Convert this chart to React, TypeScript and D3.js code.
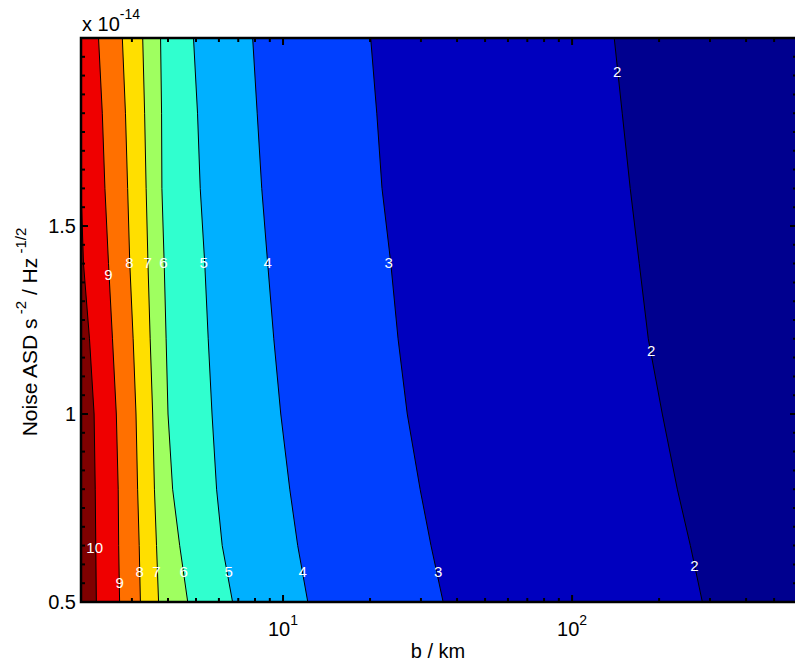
import React from "react";
import * as d3 from "d3";

// noise ASD rows (x 1e-14) at which contour boundaries were read
const noiseRows = [2.0, 1.8, 1.6, 1.4, 1.2, 1.0, 0.8, 0.65, 0.5];

// b (km) where each contour level crosses the rows above
const level2 = [139.9, 149.1, 158.9, 170.8, 183.5, 205.2, 231.3, 256.6, 282.3];
const level3 = [20.1, 21.1, 22.0, 23.6, 25.0, 26.9, 29.8, 32.5, 35.8];
const level4 = [7.85, 8.14, 8.44, 8.85, 9.29, 9.82, 10.55, 11.24, 12.18];
const level5 = [4.9, 5.06, 5.17, 5.36, 5.51, 5.68, 5.89, 6.16, 6.69];
const level6 = [3.77, 3.8, 3.81, 3.88, 3.94, 4.0, 4.15, 4.39, 4.68];
const level7 = [3.27, 3.32, 3.36, 3.41, 3.47, 3.54, 3.59, 3.65, 3.71];
const level8 = [2.78, 2.85, 2.9, 2.95, 3.03, 3.1, 3.14, 3.18, 3.21];
const level9 = [2.3, 2.37, 2.42, 2.49, 2.57, 2.65, 2.69, 2.7, 2.72];
const level10 = [2.0, 2.0, 2.0, 2.04, 2.14, 2.22, 2.24, 2.25, 2.26];

const boundaries = [level2, level3, level4, level5, level6, level7, level8, level9, level10];
// fill left of each boundary (band level..level+1), jet colours
const bandColors = ["#0000bf", "#0040ff", "#00b0ff", "#30ffcf", "#9fff60", "#ffdf00", "#ff7000", "#ef0000", "#7f0000"];
const lowestColor = "#00008f";

// contour labels
const labelText = ["9", "8", "7", "6", "5", "4", "3", "10", "9", "8", "7", "6", "5", "4", "3", "2", "2", "2"];
const labelB = [2.49, 2.94, 3.4, 3.86, 5.31, 8.85, 23.2, 2.23, 2.72, 3.19, 3.65, 4.53, 6.48, 11.7, 34.4, 265, 143.3, 187.9];
const labelNoise = [1.37, 1.402, 1.402, 1.402, 1.402, 1.402, 1.402, 0.644, 0.553, 0.582, 0.582, 0.582, 0.582, 0.582, 0.582, 0.596, 1.912, 1.17];

const yTickLabels = [0.5, 1, 1.5];
const xTickLabels = [10, 100];

const W = 795;
const H = 662;
const left = 81;
const right = 797;
const top = 38;
const bottom = 602;
const font = "'Liberation Sans', Arial, Helvetica, sans-serif";

export default function App() {
  const x = d3.scaleLog().domain([2, 600]).range([left, right]);
  const y = d3.scaleLinear().domain([0.5, 2]).range([bottom, top]);

  const area = (bs: number[]) =>
    d3
      .area<number>()
      .x0(x(2))
      .x1((d) => x(d))
      .y((d, i) => y(noiseRows[i]))(bs);
  const line = (bs: number[]) =>
    d3
      .line<number>()
      .x((d) => x(d))
      .y((d, i) => y(noiseRows[i]))(bs);

  const xTicks = x.ticks().filter((t) => t >= 2 && t <= 600);
  const yTicks = d3.range(0.5, 2.0001, 0.05).map((v) => Math.round(v * 100) / 100);
  const isMajorX = (t: number) => Math.abs(Math.log10(t) - Math.round(Math.log10(t))) < 1e-9;
  const isMajorY = (t: number) => Math.abs(t * 2 - Math.round(t * 2)) < 1e-9;

  return (
    <svg
      width={W}
      height={H}
      style={{ position: "absolute", left: 0, top: 0, background: "#fff" }}
      fontFamily={font}
    >
      <defs>
        <clipPath id="plot">
          <rect x={left} y={top} width={right - left} height={bottom - top} />
        </clipPath>
      </defs>
      <g clipPath="url(#plot)">
        <rect x={left} y={top} width={right - left} height={bottom - top} fill={lowestColor} />
        {boundaries.map((bs, i) => (
          <path key={"a" + i} d={area(bs) || ""} fill={bandColors[i]} />
        ))}
        {boundaries.map((bs, i) => (
          <path key={"l" + i} d={line(bs) || ""} fill="none" stroke="#000" strokeWidth={1} />
        ))}
      </g>

      {labelText.map((t, i) => (
        <text
          key={"t" + i}
          x={x(labelB[i])}
          y={y(labelNoise[i])}
          fill="#fff"
          fontSize={15}
          textAnchor="middle"
          dominantBaseline="central"
        >
          {t}
        </text>
      ))}

      {/* ticks */}
      <g stroke="#000" strokeWidth={2}>
        {xTicks.map((t) => {
          const len = isMajorX(t) ? 7 : 4;
          return (
            <g key={"xt" + t}>
              <line x1={x(t)} x2={x(t)} y1={bottom} y2={bottom - len} />
              <line x1={x(t)} x2={x(t)} y1={top} y2={top + len} />
            </g>
          );
        })}
        {yTicks.map((t) => {
          const len = isMajorY(t) ? 7 : 4;
          return (
            <g key={"yt" + t}>
              <line x1={left} x2={left + len} y1={y(t)} y2={y(t)} />
              <line x1={right} x2={right - len} y1={y(t)} y2={y(t)} />
            </g>
          );
        })}
      </g>

      {/* frame */}
      <rect x={left} y={top} width={right - left} height={bottom - top} fill="none" stroke="#000" strokeWidth={2.5} />

      {/* tick labels */}
      {yTickLabels.map((t) => (
        <text key={"yl" + t} x={76} y={y(t)} fontSize={20} textAnchor="end" dominantBaseline="central">
          {t}
        </text>
      ))}
      {xTickLabels.map((t) => (
        <text key={"xl" + t} x={x(t)} y={636} fontSize={20} textAnchor="middle">
          10
          <tspan fontSize={14} dy={-11}>
            {Math.round(Math.log10(t))}
          </tspan>
        </text>
      ))}

      <text x={82} y={31} fontSize={20}>
        x 10
        <tspan fontSize={14} dy={-12}>
          -14
        </tspan>
      </text>

      <text x={438} y={658} fontSize={20} textAnchor="middle">
        b / km
      </text>

      <text transform="translate(37,332) rotate(-90)" fontSize={21} textAnchor="middle">
        Noise ASD s
        <tspan fontSize={15} dy={-11}>
          {" "}-2
        </tspan>
        <tspan dy={11}> / Hz</tspan>
        <tspan fontSize={15} dy={-11}>
          {" "}-1/2
        </tspan>
      </text>
    </svg>
  );
}
